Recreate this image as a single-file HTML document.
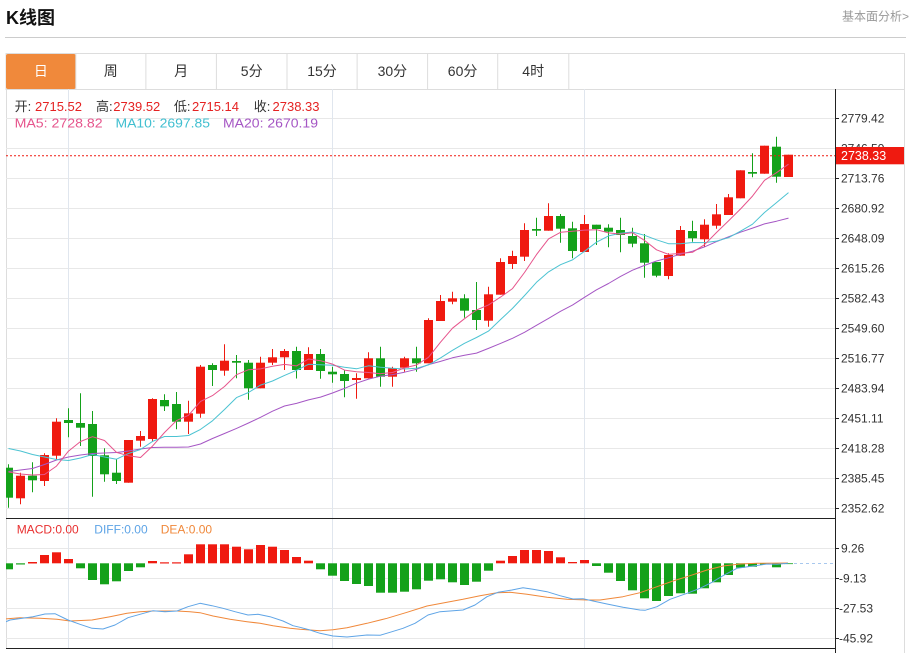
<!DOCTYPE html>
<html><head><meta charset="utf-8"><style>
html,body{margin:0;padding:0;background:#fff;width:910px;height:653px;overflow:hidden}
svg{display:block;font-family:"Liberation Sans","Noto Sans CJK SC",sans-serif}
</style></head><body>
<svg width="910" height="653" viewBox="0 0 910 653" xmlns="http://www.w3.org/2000/svg">
<defs><clipPath id="c"><rect x="6" y="89" width="829" height="560"/></clipPath></defs>
<rect width="910" height="653" fill="#fff"/>
<text x="6" y="24" font-size="18" font-weight="bold" fill="#111">K线图</text>
<text x="909" y="20.5" font-size="12" fill="#999" text-anchor="end">基本面分析&gt;</text>
<line x1="5" y1="37.5" x2="906" y2="37.5" stroke="#ccc"/>
<!-- tabs -->
<rect x="6" y="53.5" width="898.5" height="36" fill="#fff" stroke="#ddd"/>
<rect x="6" y="54" width="69.8" height="35" fill="#f0893b" rx="2"/>
<g stroke="#ddd"><line x1="75.8" y1="54" x2="75.8" y2="89"/><line x1="145.9" y1="54" x2="145.9" y2="89"/><line x1="216.4" y1="54" x2="216.4" y2="89"/><line x1="287" y1="54" x2="287" y2="89"/><line x1="357.1" y1="54" x2="357.1" y2="89"/><line x1="427.6" y1="54" x2="427.6" y2="89"/><line x1="497.7" y1="54" x2="497.7" y2="89"/><line x1="568.8" y1="54" x2="568.8" y2="89"/></g>
<g font-size="14" fill="#333" text-anchor="middle"><text x="40.9" y="76" fill="#fff">日</text><text x="110.8" y="76">周</text><text x="181.1" y="76">月</text><text x="251.7" y="76">5分</text><text x="322" y="76">15分</text><text x="392.4" y="76">30分</text><text x="462.6" y="76">60分</text><text x="533.2" y="76">4时</text></g>
<!-- borders -->
<line x1="6.5" y1="89" x2="6.5" y2="649" stroke="#ddd"/>
<line x1="904.5" y1="53" x2="904.5" y2="653" stroke="#ddd"/>
<!-- grid -->
<g stroke="#e8e8e8"><line x1="6" y1="118.5" x2="835" y2="118.5"/><line x1="6" y1="148.5" x2="835" y2="148.5"/><line x1="6" y1="178.5" x2="835" y2="178.5"/><line x1="6" y1="208.5" x2="835" y2="208.5"/><line x1="6" y1="238.5" x2="835" y2="238.5"/><line x1="6" y1="268.5" x2="835" y2="268.5"/><line x1="6" y1="298.5" x2="835" y2="298.5"/><line x1="6" y1="328.5" x2="835" y2="328.5"/><line x1="6" y1="358.5" x2="835" y2="358.5"/><line x1="6" y1="388.5" x2="835" y2="388.5"/><line x1="6" y1="418.5" x2="835" y2="418.5"/><line x1="6" y1="448.5" x2="835" y2="448.5"/><line x1="6" y1="478.5" x2="835" y2="478.5"/><line x1="6" y1="508.5" x2="835" y2="508.5"/><line x1="6" y1="548.5" x2="835" y2="548.5"/><line x1="6" y1="578.5" x2="835" y2="578.5"/><line x1="6" y1="608.5" x2="835" y2="608.5"/><line x1="6" y1="638.5" x2="835" y2="638.5"/></g>
<g stroke="#e0e6ee"><line x1="68.5" y1="89" x2="68.5" y2="648"/><line x1="332.5" y1="89" x2="332.5" y2="648"/><line x1="584.5" y1="89" x2="584.5" y2="648"/></g>
<!-- info text -->
<g font-size="13">
<text x="14.6" y="111" fill="#333">开:</text><text x="35" y="111" fill="#e52222">2715.52</text>
<text x="96" y="111" fill="#333">高:</text><text x="113.3" y="111" fill="#e52222">2739.52</text>
<text x="173.9" y="111" fill="#333">低:</text><text x="192" y="111" fill="#e52222">2715.14</text>
<text x="253.8" y="111" fill="#333">收:</text><text x="272.5" y="111" fill="#e52222">2738.33</text>
<text x="14.6" y="127.7" fill="#e6548c" textLength="88" lengthAdjust="spacingAndGlyphs">MA5: 2728.82</text>
<text x="115.5" y="127.7" fill="#40bfd0" textLength="94.5" lengthAdjust="spacingAndGlyphs">MA10: 2697.85</text>
<text x="223" y="127.7" fill="#a556c4" textLength="95" lengthAdjust="spacingAndGlyphs">MA20: 2670.19</text>
</g>
<g clip-path="url(#c)">
<!-- red candles -->
<g stroke="#ef1a10" stroke-width="1">
<line x1="20.5" y1="472.7" x2="20.5" y2="504.3"/><line x1="44.5" y1="453.3" x2="44.5" y2="486"/><line x1="56.5" y1="418.3" x2="56.5" y2="460"/><line x1="128.5" y1="440" x2="128.5" y2="482.7"/><line x1="140.5" y1="431" x2="140.5" y2="446.7"/><line x1="152.5" y1="398.3" x2="152.5" y2="441.7"/><line x1="188.5" y1="400.7" x2="188.5" y2="434"/><line x1="200.5" y1="365" x2="200.5" y2="417.7"/><line x1="224.5" y1="344.3" x2="224.5" y2="375.7"/><line x1="260.5" y1="356.7" x2="260.5" y2="388.3"/><line x1="272.5" y1="349" x2="272.5" y2="365"/><line x1="284.5" y1="349" x2="284.5" y2="370"/><line x1="308.5" y1="347.3" x2="308.5" y2="370"/><line x1="356.5" y1="373.3" x2="356.5" y2="398.7"/><line x1="368.5" y1="352.3" x2="368.5" y2="378.3"/><line x1="392.5" y1="366.7" x2="392.5" y2="386.7"/><line x1="404.5" y1="356.7" x2="404.5" y2="371.7"/><line x1="428.5" y1="318.3" x2="428.5" y2="363.3"/><line x1="440.5" y1="295" x2="440.5" y2="321"/><line x1="452.5" y1="291.7" x2="452.5" y2="304.3"/><line x1="488.5" y1="286.7" x2="488.5" y2="326.7"/><line x1="500.5" y1="258.3" x2="500.5" y2="294.7"/><line x1="512.5" y1="250.7" x2="512.5" y2="269"/><line x1="524.5" y1="223.3" x2="524.5" y2="261"/><line x1="548.5" y1="203.3" x2="548.5" y2="230.7"/><line x1="584.5" y1="215" x2="584.5" y2="252"/><line x1="668.5" y1="253.3" x2="668.5" y2="279.3"/><line x1="680.5" y1="226" x2="680.5" y2="255.7"/><line x1="704.5" y1="219.3" x2="704.5" y2="246.7"/><line x1="716.5" y1="204" x2="716.5" y2="228.7"/><line x1="728.5" y1="194" x2="728.5" y2="215"/><line x1="740.5" y1="170.3" x2="740.5" y2="198.3"/><line x1="764.5" y1="145.7" x2="764.5" y2="173.7"/><line x1="788.5" y1="154.7" x2="788.5" y2="177"/>
</g>
<g fill="#ef1a10">
<rect x="16" y="475.7" width="9" height="22.6"/><rect x="40" y="455" width="9" height="26"/><rect x="52" y="421.7" width="9" height="34"/><rect x="124" y="440" width="9" height="42.7"/><rect x="136" y="436" width="9" height="4.7"/><rect x="148" y="399" width="9" height="40"/><rect x="184" y="413.3" width="9" height="8.4"/><rect x="196" y="366.7" width="9" height="47"/><rect x="220" y="360.7" width="9" height="10"/><rect x="256" y="362.7" width="9" height="25.6"/><rect x="268" y="357.3" width="9" height="5.4"/><rect x="280" y="351" width="9" height="6.3"/><rect x="304" y="354" width="9" height="16"/><rect x="352" y="378" width="9" height="2"/><rect x="364" y="358.3" width="9" height="20"/><rect x="388" y="368.3" width="9" height="8.4"/><rect x="400" y="358.3" width="9" height="9.4"/><rect x="424" y="320" width="9" height="43.3"/><rect x="436" y="301" width="9" height="20"/><rect x="448" y="298.3" width="9" height="3.4"/><rect x="484" y="294.3" width="9" height="26.4"/><rect x="496" y="262" width="9" height="32.7"/><rect x="508" y="256" width="9" height="8"/><rect x="520" y="230" width="9" height="26.7"/><rect x="544" y="216" width="9" height="14.7"/><rect x="580" y="224" width="9" height="28"/><rect x="664" y="255" width="9" height="21"/><rect x="676" y="230" width="9" height="25.7"/><rect x="700" y="224.7" width="9" height="14.6"/><rect x="712" y="214.3" width="9" height="11.4"/><rect x="724" y="197.3" width="9" height="17.7"/><rect x="736" y="170.3" width="9" height="28"/><rect x="760" y="145.7" width="9" height="28"/><rect x="784" y="154.7" width="9" height="22.3"/>
</g>
<!-- green candles -->
<g stroke="#14a11a" stroke-width="1">
<line x1="8.5" y1="464.3" x2="8.5" y2="507.7"/><line x1="32.5" y1="462.3" x2="32.5" y2="492.3"/><line x1="68.5" y1="408.3" x2="68.5" y2="437.3"/><line x1="80.5" y1="393.3" x2="80.5" y2="446"/><line x1="92.5" y1="411" x2="92.5" y2="496.7"/><line x1="104.5" y1="448.3" x2="104.5" y2="481.7"/><line x1="116.5" y1="459.3" x2="116.5" y2="484"/><line x1="164.5" y1="394.3" x2="164.5" y2="411"/><line x1="176.5" y1="392" x2="176.5" y2="429.3"/><line x1="212.5" y1="363.3" x2="212.5" y2="386"/><line x1="236.5" y1="355" x2="236.5" y2="378.3"/><line x1="248.5" y1="360" x2="248.5" y2="399.7"/><line x1="296.5" y1="346.7" x2="296.5" y2="378.5"/><line x1="320.5" y1="349" x2="320.5" y2="378.7"/><line x1="332.5" y1="366.7" x2="332.5" y2="382.7"/><line x1="344.5" y1="370" x2="344.5" y2="397.3"/><line x1="380.5" y1="346.7" x2="380.5" y2="386.7"/><line x1="416.5" y1="346.7" x2="416.5" y2="371.7"/><line x1="464.5" y1="294.3" x2="464.5" y2="317.7"/><line x1="476.5" y1="282" x2="476.5" y2="330"/><line x1="536.5" y1="217.7" x2="536.5" y2="236"/><line x1="560.5" y1="214" x2="560.5" y2="242.7"/><line x1="572.5" y1="221.7" x2="572.5" y2="258.3"/><line x1="596.5" y1="224.7" x2="596.5" y2="245"/><line x1="608.5" y1="224.3" x2="608.5" y2="247.3"/><line x1="620.5" y1="217.7" x2="620.5" y2="252.3"/><line x1="632.5" y1="227.7" x2="632.5" y2="247.3"/><line x1="644.5" y1="234" x2="644.5" y2="277.7"/><line x1="656.5" y1="262" x2="656.5" y2="277.3"/><line x1="692.5" y1="220.7" x2="692.5" y2="241.7"/><line x1="752.5" y1="153.3" x2="752.5" y2="177.3"/><line x1="776.5" y1="136.7" x2="776.5" y2="182.7"/>
</g>
<g fill="#14a11a">
<rect x="4" y="467.7" width="9" height="30"/><rect x="28" y="475.7" width="9" height="4.6"/><rect x="64" y="420" width="9" height="3"/><rect x="76" y="423" width="9" height="4.7"/><rect x="88" y="424" width="9" height="32"/><rect x="100" y="455.3" width="9" height="19"/><rect x="112" y="472.7" width="9" height="8.3"/><rect x="160" y="400" width="9" height="6.3"/><rect x="172" y="404" width="9" height="17.7"/><rect x="208" y="365" width="9" height="5"/><rect x="232" y="361" width="9" height="1.7"/><rect x="244" y="362.7" width="9" height="25.6"/><rect x="292" y="351" width="9" height="19"/><rect x="316" y="354" width="9" height="17"/><rect x="328" y="371.7" width="9" height="2.6"/><rect x="340" y="374" width="9" height="7"/><rect x="376" y="358.3" width="9" height="18.4"/><rect x="412" y="358.3" width="9" height="5"/><rect x="460" y="298.3" width="9" height="12.4"/><rect x="472" y="310" width="9" height="10"/><rect x="532" y="229" width="9" height="1.7"/><rect x="556" y="216" width="9" height="12.7"/><rect x="568" y="228.3" width="9" height="22.7"/><rect x="592" y="224.7" width="9" height="4.3"/><rect x="604" y="227.7" width="9" height="4"/><rect x="616" y="230" width="9" height="5"/><rect x="628" y="236" width="9" height="7.7"/><rect x="640" y="243.3" width="9" height="19.4"/><rect x="652" y="262" width="9" height="13.7"/><rect x="688" y="231" width="9" height="7.3"/><rect x="748" y="172" width="9" height="1.7"/><rect x="772" y="146.7" width="9" height="30"/>
</g>
<!-- MA lines -->
<g fill="none" stroke-width="1" stroke-linejoin="round">
<polyline stroke="#a556c4" points="8.5,471.5 20.5,470 32.5,468.5 44.5,464.5 56.5,460 68.5,457 80.5,455 92.5,453.5 104.5,453 116.5,452.5 128.5,451 140.5,449 152.5,447.5 164.5,447.3 176.5,447.3 188.5,447 200.5,444 212.5,438.5 224.5,433.5 236.5,428.4 248.5,423 260.5,417.3 272.5,411.2 284.5,406 296.5,403.4 308.5,399.9 320.5,397.1 332.5,393 344.5,388.4 356.5,383.2 368.5,379.1 380.5,376.2 392.5,374.6 404.5,372.2 416.5,369.3 428.5,364.6 440.5,361.4 452.5,357.8 464.5,355.3 476.5,353.1 488.5,348.4 500.5,343.4 512.5,338.3 524.5,332.3 536.5,325.3 548.5,318.4 560.5,311.3 572.5,305.1 584.5,297.3 596.5,289.8 608.5,283.5 620.5,276.4 632.5,270.2 644.5,265.4 656.5,261 668.5,257.8 680.5,254.2 692.5,251.2 704.5,246.9 716.5,241.6 728.5,236.8 740.5,232.2 752.5,228.1 764.5,223.9 776.5,221.2 788.5,218.1"/>
<polyline stroke="#4cc3d2" points="8.5,448.5 20.5,451 32.5,454.5 44.5,457 56.5,459.5 68.5,460.5 80.5,458 92.5,454.5 104.5,457 116.5,459.2 128.5,453.5 140.5,449.5 152.5,441.4 164.5,436.5 176.5,436.5 188.5,435.5 200.5,429.4 212.5,420.8 224.5,409.5 236.5,397.6 248.5,392.5 260.5,385.1 272.5,381 284.5,375.4 296.5,370.3 308.5,364.3 320.5,364.8 332.5,365.2 344.5,367.2 356.5,368.8 368.5,365.8 380.5,367.2 392.5,368.3 404.5,369 416.5,368.3 428.5,364.9 440.5,357.9 452.5,350.3 464.5,343.3 476.5,337.5 488.5,331.1 500.5,319.6 512.5,308.4 524.5,295.6 536.5,282.3 548.5,271.9 560.5,264.7 572.5,259.9 584.5,251.3 596.5,242.2 608.5,235.9 620.5,233.2 632.5,232 644.5,235.3 656.5,239.8 668.5,243.7 680.5,243.8 692.5,242.5 704.5,242.6 716.5,241.1 728.5,237.7 740.5,231.2 752.5,224.2 764.5,212.5 776.5,202.6 788.5,192.6"/>
<polyline stroke="#e6548c" points="8.5,472 20.5,474 32.5,475 44.5,474.5 56.5,466.1 68.5,451.1 80.5,441.5 92.5,436.7 104.5,440.5 116.5,452.4 128.5,455.8 140.5,457.5 152.5,446.1 164.5,432.5 176.5,420.6 188.5,415.3 200.5,401.4 212.5,395.6 224.5,386.5 236.5,374.7 248.5,369.7 260.5,368.9 272.5,366.3 284.5,364.4 296.5,365.9 308.5,359 320.5,360.7 332.5,364.1 344.5,370.1 356.5,371.7 368.5,372.5 380.5,373.7 392.5,372.5 404.5,367.9 416.5,365 428.5,357.3 440.5,342.2 452.5,328.2 464.5,318.7 476.5,310 488.5,304.9 500.5,297.1 512.5,288.6 524.5,272.5 536.5,254.6 548.5,238.9 560.5,232.3 572.5,231.3 584.5,230.1 596.5,229.7 608.5,232.9 620.5,234.1 632.5,232.7 644.5,240.4 656.5,249.8 668.5,254.4 680.5,253.4 692.5,252.3 704.5,244.7 716.5,232.5 728.5,220.9 740.5,209 752.5,196.1 764.5,180.3 776.5,172.7 788.5,164.2"/>
</g>
<!-- MACD bars -->
<g fill="#ef1a10">
<rect x="28" y="562" width="9" height="1.5"/><rect x="40" y="555" width="9" height="8.3"/><rect x="52" y="552.3" width="9" height="11"/><rect x="64" y="559" width="9" height="4.3"/><rect x="148" y="561" width="9" height="2.3"/><rect x="160" y="562.3" width="9" height="1.2"/><rect x="172" y="562.3" width="9" height="1.2"/><rect x="184" y="554.3" width="9" height="9"/><rect x="196" y="544.3" width="9" height="19"/><rect x="208" y="544.3" width="9" height="19"/><rect x="220" y="544.3" width="9" height="19"/><rect x="232" y="546.7" width="9" height="16.6"/><rect x="244" y="549.3" width="9" height="14"/><rect x="256" y="545" width="9" height="18.3"/><rect x="268" y="546.7" width="9" height="16.6"/><rect x="280" y="550" width="9" height="13.3"/><rect x="292" y="557" width="9" height="6.3"/><rect x="304" y="560.7" width="9" height="2.6"/><rect x="496" y="560.7" width="9" height="2.6"/><rect x="508" y="556" width="9" height="7.3"/><rect x="520" y="550" width="9" height="13.3"/><rect x="532" y="550" width="9" height="13.3"/><rect x="544" y="551" width="9" height="12.3"/><rect x="556" y="557.3" width="9" height="6"/><rect x="568" y="562" width="9" height="1.3"/><rect x="580" y="560" width="9" height="3.3"/>
</g>
<g fill="#14a11a">
<rect x="4" y="563.3" width="9" height="6"/><rect x="16" y="563.3" width="9" height="1.2"/><rect x="76" y="563.3" width="9" height="5"/><rect x="88" y="563.3" width="9" height="16.7"/><rect x="100" y="563.3" width="9" height="21"/><rect x="112" y="563.3" width="9" height="18"/><rect x="124" y="563.3" width="9" height="7.7"/><rect x="136" y="563.3" width="9" height="4"/><rect x="316" y="563.3" width="9" height="6"/><rect x="328" y="563.3" width="9" height="12.4"/><rect x="340" y="563.3" width="9" height="17.7"/><rect x="352" y="563.3" width="9" height="20.7"/><rect x="364" y="563.3" width="9" height="22.7"/><rect x="376" y="563.3" width="9" height="29.4"/><rect x="388" y="563.3" width="9" height="29.4"/><rect x="400" y="563.3" width="9" height="28.4"/><rect x="412" y="563.3" width="9" height="26"/><rect x="424" y="563.3" width="9" height="17.4"/><rect x="436" y="563.3" width="9" height="16"/><rect x="448" y="563.3" width="9" height="19"/><rect x="460" y="563.3" width="9" height="21.7"/><rect x="472" y="563.3" width="9" height="18.4"/><rect x="484" y="563.3" width="9" height="7.4"/><rect x="592" y="563.3" width="9" height="2.7"/><rect x="604" y="563.3" width="9" height="9.4"/><rect x="616" y="563.3" width="9" height="17.7"/><rect x="628" y="563.3" width="9" height="27"/><rect x="640" y="563.3" width="9" height="35"/><rect x="652" y="563.3" width="9" height="37.7"/><rect x="664" y="563.3" width="9" height="32.7"/><rect x="676" y="563.3" width="9" height="30"/><rect x="688" y="563.3" width="9" height="30.4"/><rect x="700" y="563.3" width="9" height="25"/><rect x="712" y="563.3" width="9" height="19"/><rect x="724" y="563.3" width="9" height="11.7"/><rect x="736" y="563.3" width="9" height="4.4"/><rect x="748" y="563.3" width="9" height="3.4"/><rect x="760" y="563.3" width="9" height="1.2"/><rect x="772" y="563.3" width="9" height="4"/><rect x="784" y="563.3" width="9" height="0.8"/>
</g>
<line x1="794" y1="563.5" x2="834" y2="563.5" stroke="#a8c8ee" stroke-dasharray="3 3"/>
<g fill="none" stroke-width="1" stroke-linejoin="round">
<polyline stroke="#f0883a" points="4,619 20,617.7 40,618.3 57,619.3 70,621 92,620 110,616.7 127,613.3 140,611.7 153,611 177,611 190,611.7 200,612.7 213,616 230,619.3 247,621.7 260,623.3 273,625.7 290,628.3 300,629.3 310,630 320,630.7 333,629.7 347,627.7 367,623.3 387,618.3 407,612.3 427,606 447,602.3 463,599.3 480,595.7 497,592.7 510,592.3 527,594.3 547,597.3 567,599.3 587,600 600,600 607,599 623,596.7 640,592.7 657,586.7 673,581 690,575.7 707,570 723,566 740,564 757,563.3 788,563"/>
<polyline stroke="#5ea4e6" points="4,622.5 10,620 33,616.7 45,614 55,613.7 68,620 80,624.3 92,628.3 103,629 115,625 128,617.7 140,614.3 153,610.7 165,611.7 177,611 188,606.7 200,603.3 212,605.7 223,608.3 235,611.7 248,615 258,614.3 270,616.7 283,621 293,625.7 300,627.3 310,630 320,633.3 333,636 347,637 367,635 380,635.3 390,632.3 403,628.3 415,623.3 428,615 440,611.7 450,611 463,610 475,605 487,596.7 498,592.3 512,590 523,587.7 533,589.3 547,591.7 560,595.7 573,599 583,598.7 593,601 607,604 623,607.3 640,610 645,610.3 657,606.7 670,599.3 687,593.3 700,588.3 712,582.3 723,575.7 737,568.3 753,566 767,564 777,564.3 788,563.3"/>
</g>
</g>
<!-- current price dotted line -->
<line x1="6" y1="155.7" x2="835" y2="155.7" stroke="#ef1a10" stroke-dasharray="2 2"/>
<!-- separators & axis -->
<line x1="6" y1="518.5" x2="835" y2="518.5" stroke="#222"/>
<line x1="6" y1="648.5" x2="835" y2="648.5" stroke="#222"/>
<line x1="835.5" y1="89" x2="835.5" y2="653" stroke="#222"/>
<!-- MACD legend -->
<g font-size="12"><text x="16.7" y="533.5" fill="#e83030">MACD:0.00</text><text x="94.3" y="533.5" fill="#5ea4e6">DIFF:0.00</text><text x="160.7" y="533.5" fill="#f0883a">DEA:0.00</text></g>
<!-- ticks -->
<g stroke="#222"><line x1="835" y1="118.5" x2="839" y2="118.5"/><line x1="835" y1="148.5" x2="839" y2="148.5"/><line x1="835" y1="178.5" x2="839" y2="178.5"/><line x1="835" y1="208.5" x2="839" y2="208.5"/><line x1="835" y1="238.5" x2="839" y2="238.5"/><line x1="835" y1="268.5" x2="839" y2="268.5"/><line x1="835" y1="298.5" x2="839" y2="298.5"/><line x1="835" y1="328.5" x2="839" y2="328.5"/><line x1="835" y1="358.5" x2="839" y2="358.5"/><line x1="835" y1="388.5" x2="839" y2="388.5"/><line x1="835" y1="418.5" x2="839" y2="418.5"/><line x1="835" y1="448.5" x2="839" y2="448.5"/><line x1="835" y1="478.5" x2="839" y2="478.5"/><line x1="835" y1="508.5" x2="839" y2="508.5"/><line x1="835" y1="548.5" x2="839" y2="548.5"/><line x1="835" y1="578.5" x2="839" y2="578.5"/><line x1="835" y1="608.5" x2="839" y2="608.5"/><line x1="835" y1="638.5" x2="839" y2="638.5"/></g>
<g font-size="12" fill="#333">
<text x="841" y="122.7">2779.42</text><text x="841" y="152.7">2746.59</text><text x="841" y="182.7">2713.76</text><text x="841" y="212.7">2680.92</text><text x="841" y="242.7">2648.09</text><text x="841" y="272.7">2615.26</text><text x="841" y="302.7">2582.43</text><text x="841" y="332.7">2549.60</text><text x="841" y="362.7">2516.77</text><text x="841" y="392.7">2483.94</text><text x="841" y="422.7">2451.11</text><text x="841" y="452.7">2418.28</text><text x="841" y="482.7">2385.45</text><text x="841" y="512.7">2352.62</text>
<text x="841" y="552.7">9.26</text><text x="839" y="582.7">-9.13</text><text x="839" y="612.7">-27.53</text><text x="839" y="642.7">-45.92</text>
</g>
<rect x="836" y="147" width="68" height="17.3" fill="#ef1a10"/>
<text x="841" y="160.2" font-size="12.5" fill="#fff">2738.33</text>
</svg>
</body></html>
